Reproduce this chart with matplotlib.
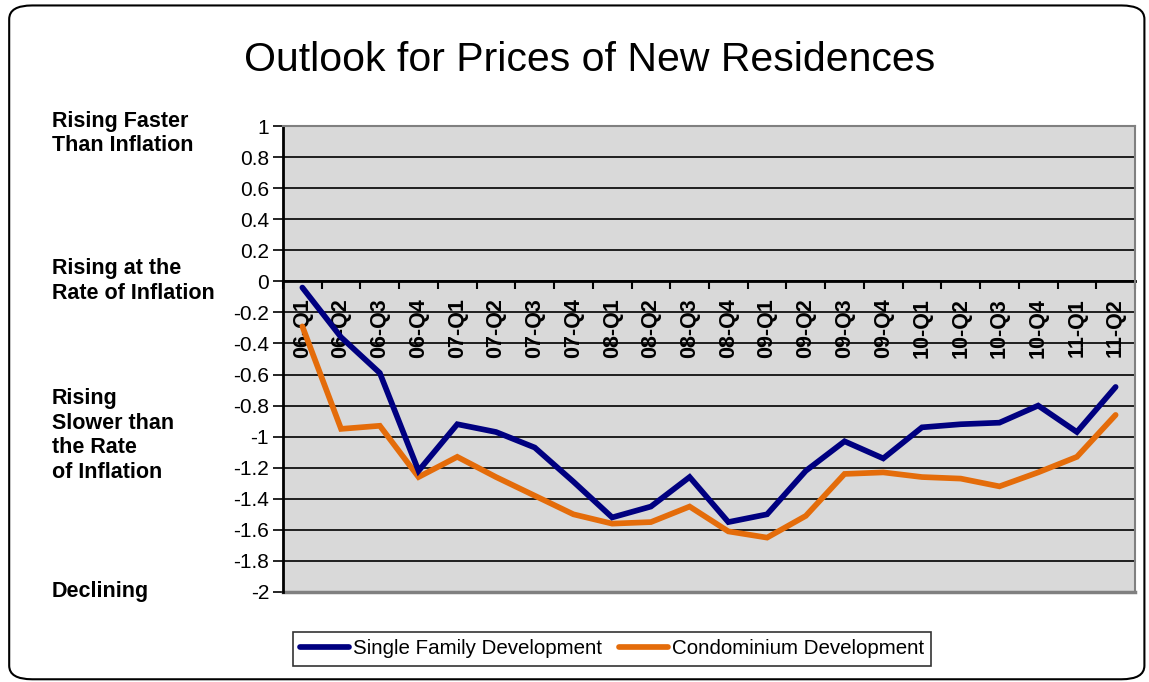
import numpy as np
import matplotlib.pyplot as plt
from matplotlib.patches import FancyBboxPatch

plt.rcParams['font.family'] = ['Liberation Sans', 'DejaVu Sans']

quarters = ['06-Q1', '06-Q2', '06-Q3', '06-Q4', '07-Q1', '07-Q2', '07-Q3', '07-Q4',
            '08-Q1', '08-Q2', '08-Q3', '08-Q4', '09-Q1', '09-Q2', '09-Q3', '09-Q4',
            '10-Q1', '10-Q2', '10-Q3', '10-Q4', '11-Q1', '11-Q2']
single_family = [-0.04, -0.36, -0.59, -1.22, -0.92, -0.97, -1.07, -1.29,
                 -1.52, -1.45, -1.26, -1.55, -1.50, -1.22, -1.03, -1.14,
                 -0.94, -0.92, -0.91, -0.80, -0.97, -0.68]
condo = [-0.29, -0.95, -0.93, -1.26, -1.13, -1.26, -1.38, -1.50,
         -1.56, -1.55, -1.45, -1.61, -1.65, -1.51, -1.24, -1.23,
         -1.26, -1.27, -1.32, -1.23, -1.13, -0.86]
yticks = np.round(np.arange(-2, 1.01, 0.2), 1) + 0.0
side_labels = ['Rising Faster\nThan Inflation', 'Rising at the\nRate of Inflation',
               'Rising\nSlower than\nthe Rate\nof Inflation', 'Declining']

fig = plt.figure(figsize=(11.49, 6.82), dpi=100)
ax = fig.add_axes([0.2463, 0.132, 0.7415, 0.6832])
ax.set_facecolor('#D9D9D9')

x = np.arange(len(quarters)) + 0.5
ax.plot(x, single_family, color='#000080', lw=4.1, solid_capstyle='round',
        solid_joinstyle='miter', label='Single Family Development', zorder=4)
ax.plot(x, condo, color='#E46C0A', lw=4.1, solid_capstyle='round',
        solid_joinstyle='miter', label='Condominium Development', zorder=3)

ax.set_xlim(0, len(quarters))
ax.set_ylim(-2, 1)
ax.set_yticks(yticks)
ax.set_yticklabels([('%g' % v) if abs(v) > 1e-9 else '0' for v in yticks], fontsize=15)
ax.tick_params(axis='y', direction='out', length=7, width=1.2, pad=3)
for v in yticks:
    ax.axhline(v, color='black', lw=1.2, zorder=1)

# x axis crossing at zero
ax.spines['bottom'].set_position(('data', 0))
ax.spines['bottom'].set_linewidth(2)
ax.spines['bottom'].set_zorder(2)
ax.set_xticks(np.arange(len(quarters) + 1))
ax.set_xticklabels([])
ax.tick_params(axis='x', which='major', direction='out', length=6, width=1.5)
ax.set_xticks(x, minor=True)
ax.set_xticklabels(quarters, minor=True, rotation=90, fontsize=15.5,
                   fontweight='bold', va='top')
ax.tick_params(axis='x', which='minor', length=0, pad=12)
for lab in ax.get_xticklabels(minor=True):
    lab.set_zorder(5)

ax.spines['left'].set_linewidth(2)
for s in ['top', 'right']:
    ax.spines[s].set_color('#808080')
    ax.spines[s].set_linewidth(1.5)
ax.axhline(-2, color='#808080', lw=2.5, clip_on=False, zorder=2)

fig.text(0.5135, 0.912, 'Outlook for Prices of New Residences', fontsize=29.5,
         ha='center', va='center')

side_y = [0.8043, 0.588, 0.3614, 0.132]
for lab, yy in zip(side_labels, side_y):
    fig.text(0.0453, yy, lab, fontsize=15.5, fontweight='bold', ha='left',
             va='center', linespacing=1.22)

leg = fig.legend(loc='center', bbox_to_anchor=(0.5326, 0.0484), ncol=2,
                 fontsize=14.8, frameon=True, fancybox=False, edgecolor='black',
                 handlelength=2.4, handletextpad=0.2, columnspacing=0.8,
                 borderpad=0.35, borderaxespad=0)
leg.get_frame().set_linewidth(1.2)

border = FancyBboxPatch((0.008, 0.004), 0.988, 0.988, transform=fig.transFigure,
                        boxstyle='round,pad=0,rounding_size=0.02', fill=False,
                        edgecolor='black', lw=1.5)
fig.patches.append(border)

fig.savefig('out.png', dpi=100)
